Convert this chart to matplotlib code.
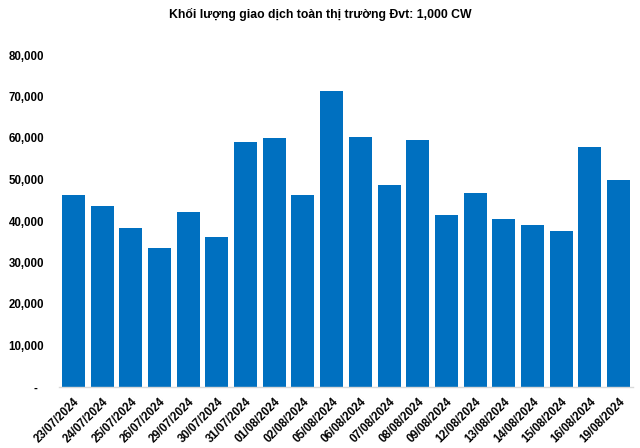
import matplotlib
matplotlib.use("Agg")
import matplotlib.pyplot as plt
from matplotlib.ticker import FuncFormatter

dates = ["23/07/2024", "24/07/2024", "25/07/2024", "26/07/2024", "29/07/2024",
         "30/07/2024", "31/07/2024", "01/08/2024", "02/08/2024", "05/08/2024",
         "06/08/2024", "07/08/2024", "08/08/2024", "09/08/2024", "12/08/2024",
         "13/08/2024", "14/08/2024", "15/08/2024", "16/08/2024", "19/08/2024"]
volumes = [46300, 43600, 38300, 33500, 42200, 36200, 59000, 60000, 46300, 71300,
           60200, 48700, 59500, 41400, 46800, 40500, 39000, 37600, 57800, 49900]
title = "Khối lượng giao dịch toàn thị trường Đvt: 1,000 CW"

plt.rcParams['font.family'] = ['Liberation Sans', 'DejaVu Sans']

fig = plt.figure(figsize=(6.4, 4.48), dpi=100)
ax = fig.add_axes([59/640, 1-387/448, 574/640, (387-55)/448])

x = list(range(len(dates)))
ax.bar(x, volumes, width=0.8, color="#0070C0")
ax.set_xlim(-0.5, len(dates) - 0.5)
ax.set_ylim(0, 80000)
ax.set_yticks(range(0, 80001, 10000))
ax.yaxis.set_major_formatter(FuncFormatter(lambda v, p: "-  " if v == 0 else f"{int(v):,}"))
ax.set_xticks(x)
ax.set_xticklabels(dates, rotation=45, ha='right', va='top', rotation_mode='anchor',
                   fontsize=8.3, fontweight='bold')
for lab in ax.get_yticklabels():
    lab.set_fontsize(8.3)
    lab.set_fontweight('bold')
ax.tick_params(axis='both', length=0)
ax.tick_params(axis='y', pad=10.8)
ax.tick_params(axis='x', pad=6)
for s in ['top', 'right', 'left']:
    ax.spines[s].set_visible(False)
ax.spines['bottom'].set_color("#d9d9d9")
ax.spines['bottom'].set_linewidth(1.0)

fig.text(0.5, 1 - 14/448, title, ha='center', va='center', fontsize=8.8, fontweight='bold')

fig.savefig("out.png", dpi=100)
